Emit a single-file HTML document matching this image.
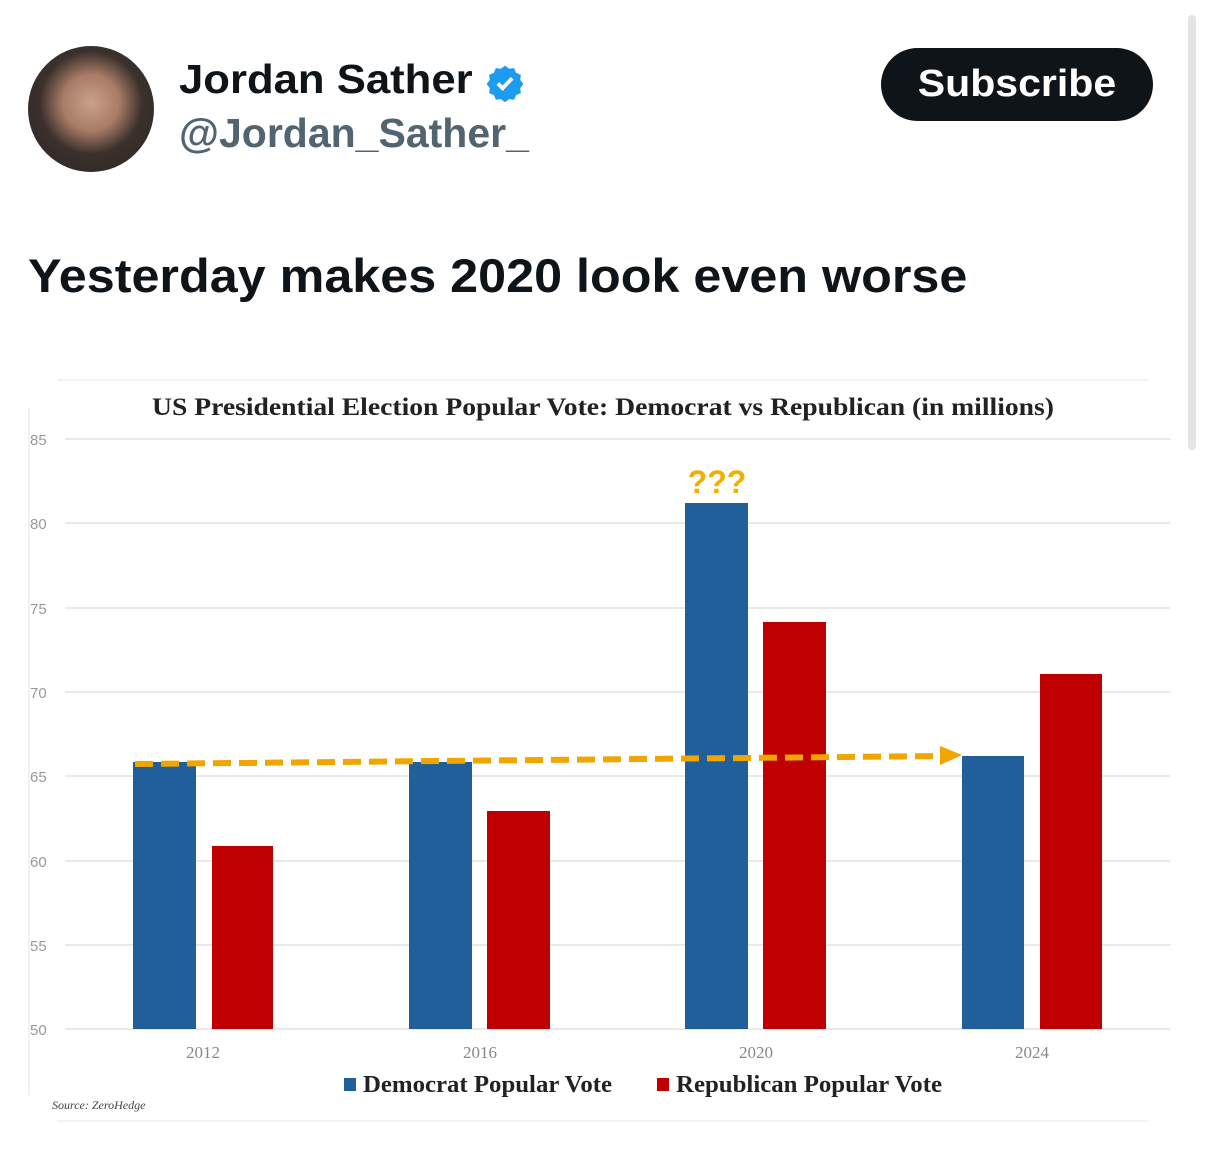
<!DOCTYPE html>
<html><head><style>
body{margin:0;width:1206px;height:1173px;background:#fff;position:relative;overflow:hidden;font-family:"Liberation Sans",sans-serif}
.a{position:absolute}
</style></head><body>
<div class="a" style="left:28px;top:46px;width:126px;height:126px;border-radius:50%;background:radial-gradient(circle at 50% 45%,#c9a18a 0,#a87c66 30%,#3b302c 55%,#2a2624 100%)"></div>
<div class="a" style="left:179px;top:56px;font-size:41px;font-weight:bold;color:#0f1419;transform:scaleX(1.065);transform-origin:left">Jordan Sather</div>
<svg class="a" style="left:486px;top:64px" width="38" height="38" viewBox="0 0 24 24"><path fill="#1d9bf0" d="M12 1l2.6 2 3.2-.4 1.2 3 3 1.2-.4 3.2 2 2.6-2 2.6.4 3.2-3 1.2-1.2 3-3.2-.4-2.6 2-2.6-2-3.2.4-1.2-3-3-1.2.4-3.2-2-2.6 2-2.6-.4-3.2 3-1.2 1.2-3 3.2.4z"/><path d="M7.5 12.3l3 3 6-6.3" stroke="#fff" stroke-width="2.4" fill="none"/></svg>
<div class="a" style="left:179px;top:110px;font-size:41px;font-weight:bold;color:#536471">@Jordan_Sather_</div>
<div class="a" style="left:881px;top:48px;width:272px;height:73px;border-radius:37px;background:#0f1419"></div>
<div class="a" style="left:881px;top:48px;width:272px;height:73px;color:#fff;font-size:38px;font-weight:bold;text-align:center;line-height:73px;transform:scaleX(1.08)">Subscribe</div>
<div class="a" style="left:1188px;top:15px;width:8px;height:435px;border-radius:4px;background:#e4e4e4"></div>
<div class="a" style="left:28px;top:248px;font-size:47px;font-weight:bold;color:#0f1419;transform:scaleX(1.07);transform-origin:left;white-space:nowrap">Yesterday makes 2020 look even worse</div>
<svg class="a" style="left:0;top:0" width="1206" height="1173">
<line x1="57" y1="380" x2="1148" y2="380" stroke="#e6e6e6"/>
<line x1="29" y1="408" x2="29" y2="1095" stroke="#e6e6e6"/>
<line x1="57" y1="1121" x2="1148" y2="1121" stroke="#e6e6e6"/>
<text x="152" y="415" textLength="902" lengthAdjust="spacingAndGlyphs" font-family="Liberation Serif,serif" font-weight="bold" font-size="25" fill="#222">US Presidential Election Popular Vote: Democrat vs Republican (in millions)</text>
<g stroke="#e2e2e2" stroke-width="1.5">
<line x1="65" y1="439" x2="1170" y2="439"/><line x1="65" y1="523" x2="1170" y2="523"/><line x1="65" y1="608" x2="1170" y2="608"/><line x1="65" y1="692" x2="1170" y2="692"/><line x1="65" y1="776" x2="1170" y2="776"/><line x1="65" y1="861" x2="1170" y2="861"/><line x1="65" y1="945" x2="1170" y2="945"/><line x1="65" y1="1029" x2="1170" y2="1029"/></g>
<g font-family="Liberation Sans,sans-serif" font-size="15" fill="#999">
<text x="30" y="445">85</text><text x="30" y="529">80</text><text x="30" y="614">75</text><text x="30" y="698">70</text><text x="30" y="782">65</text><text x="30" y="867">60</text><text x="30" y="951">55</text><text x="30" y="1035">50</text></g>
<g fill="#215f9a"><rect x="133" y="762" width="63" height="267"/><rect x="409" y="762" width="63" height="267"/><rect x="685" y="503" width="63" height="526"/><rect x="962" y="756" width="62" height="273"/></g>
<g fill="#c00000"><rect x="212" y="846" width="61" height="183"/><rect x="487" y="811" width="63" height="218"/><rect x="763" y="622" width="63" height="407"/><rect x="1040" y="674" width="62" height="355"/></g>
<line x1="135" y1="764" x2="945" y2="756" stroke="#f0a500" stroke-width="6" stroke-dasharray="18,8"/>
<polygon points="940,746 962,755 940,765" fill="#f0a500"/>
<text x="717" y="493" text-anchor="middle" font-family="Liberation Sans,sans-serif" font-weight="bold" font-size="32" fill="#f0b000">???</text>
<g font-family="Liberation Serif,serif" font-size="17" fill="#888" text-anchor="middle">
<text x="203" y="1058">2012</text><text x="480" y="1058">2016</text><text x="756" y="1058">2020</text><text x="1032" y="1058">2024</text></g>
<rect x="344" y="1078" width="12" height="13" fill="#215f9a"/>
<text x="363" y="1092" textLength="249" lengthAdjust="spacingAndGlyphs" font-family="Liberation Serif,serif" font-weight="bold" font-size="24" fill="#222">Democrat Popular Vote</text>
<rect x="657" y="1078" width="12" height="13" fill="#c00000"/>
<text x="676" y="1092" textLength="266" lengthAdjust="spacingAndGlyphs" font-family="Liberation Serif,serif" font-weight="bold" font-size="24" fill="#222">Republican Popular Vote</text>
<text x="52" y="1109" font-family="Liberation Serif,serif" font-style="italic" font-size="12" fill="#444">Source: ZeroHedge</text>
</svg>
</body></html>
